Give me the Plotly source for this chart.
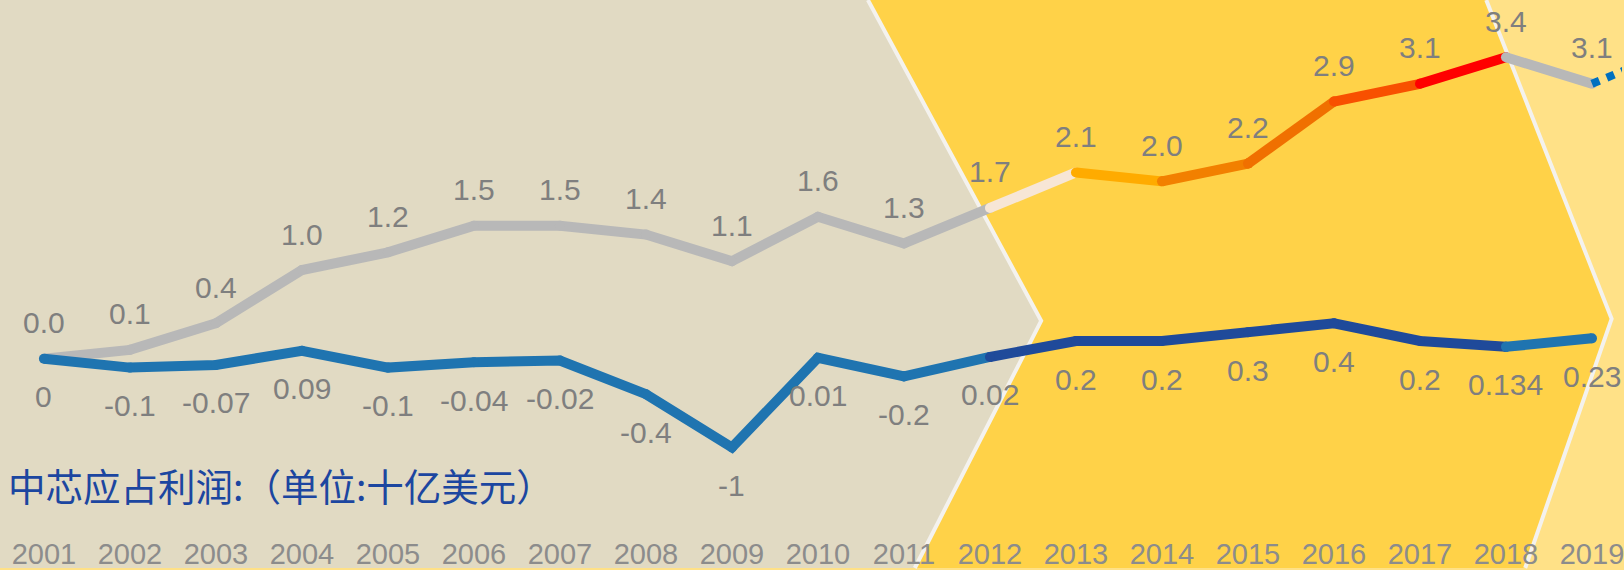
import plotly.graph_objects as go

# SMIC figures, billions of USD
years = list(range(2001, 2020))
revenue = [0.0, 0.1, 0.4, 1.0, 1.2, 1.5, 1.5, 1.4, 1.1, 1.6, 1.3, 1.7, 2.1, 2.0, 2.2, 2.9, 3.1, 3.4, 3.1]
profit = [0, -0.1, -0.07, 0.09, -0.1, -0.04, -0.02, -0.4, -1, 0.01, -0.2, 0.02, 0.2, 0.2, 0.3, 0.4, 0.2, 0.134, 0.23]
profit_labels = [str(v) for v in profit]

# colored stretch of the revenue line, 2012 -> 2018
hot_colors = ["#f7e6d6", "#ffab00", "#f28000", "#f07000", "#f85000", "#ff0000"]

# dotted continuation past 2019
next_years = [2019, 2020]
next_revenue = [3.1, 3.5]

title_text = "中芯应占利润:（单位:十亿美元）"

W, H = 1624, 570
GRAY = "#b8b8b8"
BLUE = "#1f74b0"
DARK_BLUE = "#1f4a9a"
LW = 10


def px(x, y):
    return f"{x / W:.4f},{1 - y / H:.4f}"


def seg(xs, ys, color, dash="solid"):
    return go.Scatter(
        x=xs, y=ys, mode="lines+markers" if dash == "solid" else "lines",
        line=dict(color=color, width=LW if dash == "solid" else 8, dash=dash),
        marker=dict(color=color, size=LW, line=dict(width=0)),
        hoverinfo="skip", showlegend=False,
    )


fig = go.Figure()

i12 = years.index(2012)
i18 = years.index(2018)

# revenue line
fig.add_trace(seg(years[:i12 + 1], revenue[:i12 + 1], GRAY))
for k, c in enumerate(hot_colors):
    a = i12 + k
    fig.add_trace(seg(years[a:a + 2], revenue[a:a + 2], c))
fig.add_trace(seg(years[i18:], revenue[i18:], GRAY))
fig.add_trace(seg(next_years, next_revenue, "#0070c0", dash="dot"))

# profit line
fig.add_trace(seg(years[:i12 + 1], profit[:i12 + 1], BLUE))
fig.add_trace(seg(years[i12:i18 + 1], profit[i12:i18 + 1], DARK_BLUE))
fig.add_trace(seg(years[i18:], profit[i18:], BLUE))

label_font = dict(family="Liberation Sans, Arial", size=30, color="#7f7f7f")
for x, v in zip(years, revenue):
    fig.add_annotation(x=x, y=v, text=f"{v:.1f}", showarrow=False, yshift=36, font=label_font)
for x, v, t in zip(years, profit, profit_labels):
    fig.add_annotation(x=x, y=v, text=t, showarrow=False, yshift=-38, font=label_font)

fig.add_annotation(
    xref="paper", yref="paper", x=6 / W, y=1 - 486 / H, xanchor="left", yanchor="middle",
    text=title_text, showarrow=False,
    font=dict(family="Noto Sans CJK SC", size=37.5, color="#1c46a0"),
)

# chevron background
beige = "M0,1 L" + px(869, 0) + " L" + px(1042.5, 322) + " L" + px(916, 570) + " L0,0 Z"
yellow = ("M" + px(869, 0) + " L" + px(1488, 0) + " L" + px(1613.6, 320) + " L" + px(1527, 570)
          + " L" + px(916, 570) + " L" + px(1042.5, 322) + " Z")
edge1 = "M" + px(869, 0) + " L" + px(1042.5, 322) + " L" + px(916, 570)
edge2 = "M" + px(1488, 0) + " L" + px(1613.6, 320) + " L" + px(1527, 570)
for path, fill in [(beige, "#e1dac3"), (yellow, "#ffd248")]:
    fig.add_shape(type="path", path=path, xref="paper", yref="paper",
                  fillcolor=fill, line=dict(width=0), layer="below")
for path in [edge1, edge2]:
    fig.add_shape(type="path", path=path, xref="paper", yref="paper",
                  line=dict(color="#f4f2ee", width=4), layer="below")

fig.update_layout(
    width=W, height=H,
    margin=dict(l=0, r=0, t=0, b=0),
    paper_bgcolor="#ffe187", plot_bgcolor="rgba(0,0,0,0)",
    xaxis=dict(
        range=[2000.489, 2019.349], tickvals=years, ticktext=[str(y) for y in years],
        ticklabelposition="inside", ticklabeloverflow="allow", ticklabelstandoff=-5,
        ticks="", showgrid=False, zeroline=False, showline=False,
        tickfont=dict(family="Liberation Sans, Arial", size=29, color="#8c8c8c"),
    ),
    yaxis=dict(range=[-210 / 89, 360 / 89], visible=False),
)

fig.write_html("out.html", config={"displayModeBar": False},
               post_script="document.body.style.margin='0';")
